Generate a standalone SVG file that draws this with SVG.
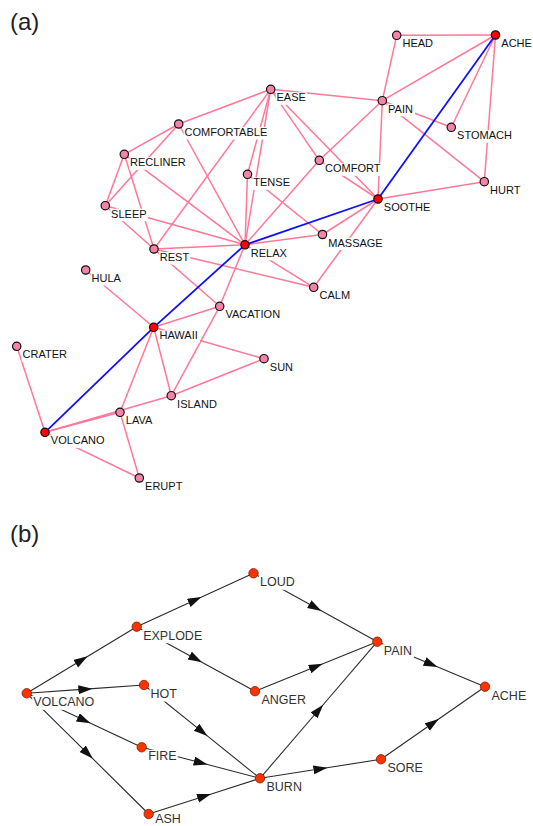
<svg xmlns="http://www.w3.org/2000/svg" width="533" height="826" viewBox="0 0 533 826">
<style>
.title{font-family:"Liberation Sans",Arial,sans-serif;font-size:24px;fill:#222}
.pe{stroke:#ff7898;stroke-width:1.5;fill:none}
.be{stroke:#1010ff;stroke-width:1.8;fill:none}
.na{fill:#f284a8;stroke:#111;stroke-width:1.2}
.nr{fill:#ff0000;stroke:#111;stroke-width:1.2}
.la{font-family:"Liberation Sans",Arial,sans-serif;font-size:11px;fill:#111}
.bg{fill:#fff}
.de{stroke:#2a2a2a;stroke-width:1.1;fill:none;marker-mid:url(#arr)}
.nb{fill:#ff3300;stroke:#7a2000;stroke-width:0.8}
.lb{font-family:"Liberation Sans",Arial,sans-serif;font-size:12.5px;fill:#333}
</style>
<defs>
<marker id="arr" markerUnits="userSpaceOnUse" markerWidth="16" markerHeight="10" refX="7" refY="4.5" orient="auto">
<path d="M0,0 L14,4.5 L0,9 z" fill="#111"/>
</marker>
</defs>
<rect width="533" height="826" fill="#fff"/>
<text class="title" x="10" y="30">(a)</text>
<text class="title" x="10" y="542">(b)</text>

<g id="connectors-a">
<line class="pe" x1="396.7" y1="35.3" x2="495.5" y2="35"/>
<line class="pe" x1="396.7" y1="35.3" x2="382.3" y2="100.7"/>
<line class="pe" x1="382.3" y1="100.7" x2="495.5" y2="35"/>
<line class="pe" x1="495.5" y1="35" x2="451.3" y2="127.3"/>
<line class="pe" x1="495.5" y1="35" x2="484.3" y2="181.7"/>
<line class="pe" x1="270.7" y1="89.3" x2="382.3" y2="100.7"/>
<line class="pe" x1="382.3" y1="100.7" x2="451.3" y2="127.3"/>
<line class="pe" x1="382.3" y1="100.7" x2="484.3" y2="181.7"/>
<line class="pe" x1="382.3" y1="100.7" x2="378" y2="199"/>
<line class="pe" x1="382.3" y1="100.7" x2="319.3" y2="160.3"/>
<line class="pe" x1="319.3" y1="160.3" x2="245" y2="244.8"/>
<line class="pe" x1="270.7" y1="89.3" x2="319.3" y2="160.3"/>
<line class="pe" x1="270.7" y1="89.3" x2="378" y2="199"/>
<line class="pe" x1="319.3" y1="160.3" x2="378" y2="199"/>
<line class="pe" x1="484.3" y1="181.7" x2="378" y2="199"/>
<line class="pe" x1="378" y1="199" x2="322.5" y2="234.5"/>
<line class="pe" x1="378" y1="199" x2="313.7" y2="287.3"/>
<line class="pe" x1="247.5" y1="174.3" x2="322.5" y2="234.5"/>
<line class="pe" x1="322.5" y1="234.5" x2="245" y2="244.8"/>
<line class="pe" x1="270.7" y1="89.3" x2="178.7" y2="124"/>
<line class="pe" x1="270.7" y1="89.3" x2="247.5" y2="174.3"/>
<line class="pe" x1="270.7" y1="89.3" x2="245" y2="244.8"/>
<line class="pe" x1="270.7" y1="89.3" x2="154" y2="249"/>
<line class="pe" x1="178.7" y1="124" x2="124.3" y2="154.3"/>
<line class="pe" x1="178.7" y1="124" x2="105.3" y2="205.7"/>
<line class="pe" x1="178.7" y1="124" x2="245" y2="244.8"/>
<line class="pe" x1="124.3" y1="154.3" x2="105.3" y2="205.7"/>
<line class="pe" x1="124.3" y1="154.3" x2="154" y2="249"/>
<line class="pe" x1="124.3" y1="154.3" x2="245" y2="244.8"/>
<line class="pe" x1="105.3" y1="205.7" x2="154" y2="249"/>
<line class="pe" x1="105.3" y1="205.7" x2="245" y2="244.8"/>
<line class="pe" x1="247.5" y1="174.3" x2="245" y2="244.8"/>
<line class="pe" x1="154" y1="249" x2="245" y2="244.8"/>
<line class="pe" x1="154" y1="249" x2="313.7" y2="287.3"/>
<line class="pe" x1="154" y1="249" x2="219.7" y2="306.3"/>
<line class="pe" x1="245" y1="244.8" x2="313.7" y2="287.3"/>
<line class="pe" x1="245" y1="244.8" x2="219.7" y2="306.3"/>
<line class="pe" x1="219.7" y1="306.3" x2="171.3" y2="395.7"/>
<line class="pe" x1="153.7" y1="327.3" x2="219.7" y2="306.3"/>
<line class="pe" x1="153.7" y1="327.3" x2="85.7" y2="270"/>
<line class="pe" x1="153.7" y1="327.3" x2="264" y2="358.7"/>
<line class="pe" x1="153.7" y1="327.3" x2="171.3" y2="395.7"/>
<line class="pe" x1="153.7" y1="327.3" x2="120" y2="412.3"/>
<line class="pe" x1="171.3" y1="395.7" x2="264" y2="358.7"/>
<line class="pe" x1="45" y1="432.3" x2="120" y2="412.3"/>
<line class="pe" x1="45" y1="432.3" x2="171.3" y2="395.7"/>
<line class="pe" x1="120" y1="412.3" x2="139.3" y2="478"/>
<line class="pe" x1="45" y1="432.3" x2="139.3" y2="478"/>
<line class="pe" x1="45" y1="432.3" x2="16.7" y2="346.3"/>
<line class="be" x1="495.5" y1="35" x2="378" y2="199"/>
<line class="be" x1="378" y1="199" x2="245" y2="244.8"/>
<line class="be" x1="245" y1="244.8" x2="153.7" y2="327.3"/>
<line class="be" x1="153.7" y1="327.3" x2="45" y2="432.3"/>
</g>

<g id="a-HEAD"><rect class="bg" x="401.7" y="38.3" width="32.6" height="12.5"/><text class="la" x="402.5" y="47.3">HEAD</text><circle class="na" cx="396.7" cy="35.3" r="4.2"/></g>
<g id="a-ACHE"><rect class="bg" x="500.5" y="38" width="32.6" height="12.5"/><text class="la" x="501.3" y="47">ACHE</text><circle class="nr" cx="495.5" cy="35" r="4.2"/></g>
<g id="a-EASE"><rect class="bg" x="275.7" y="92.3" width="31.3" height="12.5"/><text class="la" x="276.5" y="101.3">EASE</text><circle class="na" cx="270.7" cy="89.3" r="4.2"/></g>
<g id="a-PAIN"><rect class="bg" x="387.3" y="103.7" width="27.7" height="12.5"/><text class="la" x="388.1" y="112.7">PAIN</text><circle class="na" cx="382.3" cy="100.7" r="4.2"/></g>
<g id="a-COMFORTABLE"><rect class="bg" x="183.7" y="127" width="85.7" height="12.5"/><text class="la" x="184.5" y="136">COMFORTABLE</text><circle class="na" cx="178.7" cy="124" r="4.2"/></g>
<g id="a-STOMACH"><rect class="bg" x="456.3" y="130.3" width="57" height="12.5"/><text class="la" x="457.1" y="139.3">STOMACH</text><circle class="na" cx="451.3" cy="127.3" r="4.2"/></g>
<g id="a-RECLINER"><rect class="bg" x="129.3" y="157.3" width="57.6" height="12.5"/><text class="la" x="130.1" y="166.3">RECLINER</text><circle class="na" cx="124.3" cy="154.3" r="4.2"/></g>
<g id="a-COMFORT"><rect class="bg" x="324.3" y="163.3" width="57.6" height="12.5"/><text class="la" x="325.1" y="172.3">COMFORT</text><circle class="na" cx="319.3" cy="160.3" r="4.2"/></g>
<g id="a-TENSE"><rect class="bg" x="252.5" y="177.3" width="38.7" height="12.5"/><text class="la" x="253.3" y="186.3">TENSE</text><circle class="na" cx="247.5" cy="174.3" r="4.2"/></g>
<g id="a-HURT"><rect class="bg" x="489.3" y="184.7" width="32.5" height="12.5"/><text class="la" x="490.1" y="193.7">HURT</text><circle class="na" cx="484.3" cy="181.7" r="4.2"/></g>
<g id="a-SOOTHE"><rect class="bg" x="383" y="202" width="48.5" height="12.5"/><text class="la" x="383.8" y="211">SOOTHE</text><circle class="nr" cx="378" cy="199" r="4.2"/></g>
<g id="a-SLEEP"><rect class="bg" x="110.3" y="208.7" width="37.5" height="12.5"/><text class="la" x="111.1" y="217.7">SLEEP</text><circle class="na" cx="105.3" cy="205.7" r="4.2"/></g>
<g id="a-MASSAGE"><rect class="bg" x="327.5" y="237.5" width="56.4" height="12.5"/><text class="la" x="328.3" y="246.5">MASSAGE</text><circle class="na" cx="322.5" cy="234.5" r="4.2"/></g>
<g id="a-RELAX"><rect class="bg" x="250" y="247.8" width="38.1" height="12.5"/><text class="la" x="250.8" y="256.8">RELAX</text><circle class="nr" cx="245" cy="244.8" r="4.2"/></g>
<g id="a-REST"><rect class="bg" x="159" y="252" width="31.3" height="12.5"/><text class="la" x="159.8" y="261">REST</text><circle class="na" cx="154" cy="249" r="4.2"/></g>
<g id="a-HULA"><rect class="bg" x="90.7" y="273" width="31.3" height="12.5"/><text class="la" x="91.5" y="282">HULA</text><circle class="na" cx="85.7" cy="270" r="4.2"/></g>
<g id="a-CALM"><rect class="bg" x="318.7" y="290.3" width="32.6" height="12.5"/><text class="la" x="319.5" y="299.3">CALM</text><circle class="na" cx="313.7" cy="287.3" r="4.2"/></g>
<g id="a-VACATION"><rect class="bg" x="224.7" y="309.3" width="58.2" height="12.5"/><text class="la" x="225.5" y="318.3">VACATION</text><circle class="na" cx="219.7" cy="306.3" r="4.2"/></g>
<g id="a-HAWAII"><rect class="bg" x="158.7" y="330.3" width="41.1" height="12.5"/><text class="la" x="159.5" y="339.3">HAWAII</text><circle class="nr" cx="153.7" cy="327.3" r="4.2"/></g>
<g id="a-CRATER"><rect class="bg" x="21.7" y="349.3" width="47.2" height="12.5"/><text class="la" x="22.5" y="358.3">CRATER</text><circle class="na" cx="16.7" cy="346.3" r="4.2"/></g>
<g id="a-SUN"><rect class="bg" x="269" y="361.7" width="25.2" height="12.5"/><text class="la" x="269.8" y="370.7">SUN</text><circle class="na" cx="264" cy="358.7" r="4.2"/></g>
<g id="a-ISLAND"><rect class="bg" x="176.3" y="398.7" width="41.7" height="12.5"/><text class="la" x="177.1" y="407.7">ISLAND</text><circle class="na" cx="171.3" cy="395.7" r="4.2"/></g>
<g id="a-LAVA"><rect class="bg" x="125" y="415.3" width="30.1" height="12.5"/><text class="la" x="125.8" y="424.3">LAVA</text><circle class="na" cx="120" cy="412.3" r="4.2"/></g>
<g id="a-VOLCANO"><rect class="bg" x="50" y="435.3" width="55.8" height="12.5"/><text class="la" x="50.8" y="444.3">VOLCANO</text><circle class="nr" cx="45" cy="432.3" r="4.2"/></g>
<g id="a-ERUPT"><rect class="bg" x="144.3" y="481" width="39.3" height="12.5"/><text class="la" x="145.1" y="490">ERUPT</text><circle class="na" cx="139.3" cy="478" r="4.2"/></g>

<g id="connectors-b">
<path class="de" d="M26.7,693.3 L81.7,660 L136.7,626.7"/>
<path class="de" d="M26.7,693.3 L85.35,689.15 L144,685"/>
<path class="de" d="M26.7,693.3 L84.2,720.3 L141.7,747.3"/>
<path class="de" d="M26.7,693.3 L87.7,753.65 L148.7,814"/>
<path class="de" d="M136.7,626.7 L195.1,600 L253.5,573.3"/>
<path class="de" d="M136.7,626.7 L195.85,658.95 L255,691.2"/>
<path class="de" d="M253.5,573.3 L315.4,607.5 L377.3,641.7"/>
<path class="de" d="M255,691.2 L316.15,666.45 L377.3,641.7"/>
<path class="de" d="M144,685 L202,731.65 L260,778.3"/>
<path class="de" d="M141.7,747.3 L200.85,762.8 L260,778.3"/>
<path class="de" d="M148.7,814 L204.35,796.15 L260,778.3"/>
<path class="de" d="M260,778.3 L318.65,710 L377.3,641.7"/>
<path class="de" d="M260,778.3 L320.5,768.8 L381,759.3"/>
<path class="de" d="M377.3,641.7 L431.15,664.2 L485,686.7"/>
<path class="de" d="M381,759.3 L433,723 L485,686.7"/>
</g>

<g id="b-LOUD"><rect class="bg" x="259" y="575.8" width="36.7" height="14"/><text class="lb" x="260" y="586.3">LOUD</text><circle class="nb" cx="253.5" cy="573.3" r="4.7"/></g>
<g id="b-EXPLODE"><rect class="bg" x="142.2" y="629.2" width="61" height="14"/><text class="lb" x="143.2" y="639.7">EXPLODE</text><circle class="nb" cx="136.7" cy="626.7" r="4.7"/></g>
<g id="b-VOLCANO"><rect class="bg" x="32.2" y="695.8" width="63.1" height="14"/><text class="lb" x="33.2" y="706.3">VOLCANO</text><circle class="nb" cx="26.7" cy="693.3" r="4.7"/></g>
<g id="b-HOT"><rect class="bg" x="149.5" y="687.5" width="28.4" height="14"/><text class="lb" x="150.5" y="698">HOT</text><circle class="nb" cx="144" cy="685" r="4.7"/></g>
<g id="b-ANGER"><rect class="bg" x="260.5" y="693.7" width="46.5" height="14"/><text class="lb" x="261.5" y="704.2">ANGER</text><circle class="nb" cx="255" cy="691.2" r="4.7"/></g>
<g id="b-FIRE"><rect class="bg" x="147.2" y="749.8" width="30.5" height="14"/><text class="lb" x="148.2" y="760.3">FIRE</text><circle class="nb" cx="141.7" cy="747.3" r="4.7"/></g>
<g id="b-BURN"><rect class="bg" x="265.5" y="780.8" width="37.4" height="14"/><text class="lb" x="266.5" y="791.3">BURN</text><circle class="nb" cx="260" cy="778.3" r="4.7"/></g>
<g id="b-ASH"><rect class="bg" x="154.2" y="816.5" width="27.7" height="9.5"/><text class="lb" x="155.2" y="822.5">ASH</text><circle class="nb" cx="148.7" cy="814" r="4.7"/></g>
<g id="b-PAIN"><rect class="bg" x="382.8" y="644.2" width="31.2" height="14"/><text class="lb" x="383.8" y="654.7">PAIN</text><circle class="nb" cx="377.3" cy="641.7" r="4.7"/></g>
<g id="b-ACHE"><rect class="bg" x="490.5" y="689.2" width="36.7" height="14"/><text class="lb" x="491.5" y="699.7">ACHE</text><circle class="nb" cx="485" cy="686.7" r="4.7"/></g>
<g id="b-SORE"><rect class="bg" x="386.5" y="761.8" width="37.4" height="14"/><text class="lb" x="387.5" y="772.3">SORE</text><circle class="nb" cx="381" cy="759.3" r="4.7"/></g>
</svg>
